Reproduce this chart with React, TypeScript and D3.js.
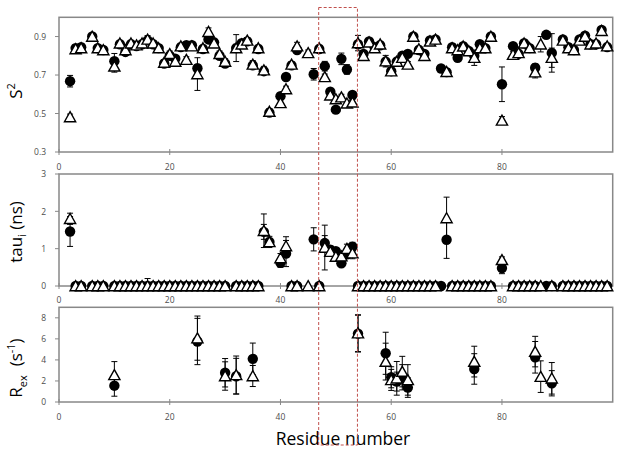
import React from "react";
import * as d3 from "d3";

// ---------- DATA ----------
const residues = [2,3,4,6,7,8,10,11,12,13,14,15,16,17,18,19,20,21,22,23,24,25,26,27,28,29,30,32,33,34,35,36,37,38,40,41,42,43,45,46,47,48,49,50,51,52,53,54,55,56,57,58,59,60,61,62,63,64,65,66,67,68,69,70,71,72,73,74,75,76,77,78,80,82,83,84,85,86,87,88,89,91,92,93,94,95,96,97,98,99];

// S2 – filled circles (series A) and open triangles (series B)
const s2A = [0.668,0.84,0.845,0.90,0.84,0.83,0.772,0.86,0.82,0.86,0.85,0.86,0.88,0.86,0.84,0.76,0.80,0.785,0.845,0.855,0.855,0.735,0.835,0.885,0.87,0.80,0.76,0.84,0.865,0.875,0.75,0.835,0.72,0.505,0.59,0.69,0.75,0.83,null,0.704,0.835,0.746,0.613,0.52,0.784,0.729,0.596,0.86,0.81,0.874,0.845,0.855,0.77,0.72,0.77,0.80,0.81,0.90,0.83,0.81,0.88,0.885,0.734,0.715,0.845,0.79,0.85,0.825,0.80,0.86,0.84,0.90,0.652,0.85,0.81,0.865,0.84,0.738,null,0.909,0.815,0.885,0.845,0.83,0.885,0.905,0.86,0.86,0.934,0.845];
const s2B = [0.482,0.835,0.84,0.90,0.84,0.83,0.745,0.865,0.83,0.865,0.855,0.865,0.885,0.865,0.84,0.765,0.81,0.77,0.85,0.78,0.85,0.705,0.84,0.925,0.865,0.81,0.77,0.84,0.86,0.88,0.755,0.84,0.725,0.51,0.555,0.627,0.755,0.85,0.815,null,0.84,0.69,0.595,0.575,0.585,0.553,0.558,0.866,0.80,0.87,0.84,0.86,0.772,0.72,0.77,0.79,0.755,0.90,0.835,0.80,0.875,0.885,null,0.717,0.84,0.83,0.849,0.825,0.79,0.84,0.84,0.90,0.464,0.806,0.815,0.865,0.84,0.715,0.86,null,0.79,0.88,0.84,0.83,0.88,0.90,0.86,0.865,0.93,0.85];
const s2AErr = [0.03,0.015,0.015,0.015,0.015,0.015,0.04,0.015,0.015,0.015,0.015,0.015,0.015,0.015,0.015,0.015,0.015,0.015,0.015,0.015,0.015,0.02,0.015,0.015,0.015,0.015,0.015,0.02,0.015,0.015,0.015,0.015,0.015,0.015,0.015,0.015,0.015,0.015,0,0.03,0.015,0.025,0.015,0.015,0.03,0.025,0.015,0.015,0.015,0.015,0.015,0.015,0.015,0.02,0.015,0.015,0.015,0.015,0.015,0.015,0.015,0.015,0.015,0.015,0.015,0.015,0.015,0.015,0.015,0.015,0.015,0.015,0.09,0.015,0.015,0.015,0.015,0.02,0,0.015,0.1,0.015,0.015,0.015,0.015,0.015,0.015,0.015,0.015,0.015];
const s2BErr = [0.015,0.02,0.015,0.015,0.015,0.015,0.03,0.015,0.015,0.015,0.015,0.015,0.02,0.015,0.015,0.015,0.015,0.015,0.015,0.015,0.015,0.085,0.015,0.02,0.015,0.015,0.015,0.07,0.015,0.015,0.02,0.015,0.02,0.015,0.015,0.015,0.015,0.02,0.015,0,0.015,0.015,0.015,0.015,0.015,0.015,0.015,0.04,0.015,0.015,0.015,0.015,0.03,0.015,0.015,0.015,0.015,0.015,0.015,0.015,0.015,0.015,0,0.015,0.015,0.015,0.015,0.015,0.04,0.015,0.015,0.015,0.02,0.015,0.015,0.015,0.015,0.03,0.04,0,0.05,0.015,0.015,0.015,0.015,0.015,0.015,0.015,0.015,0.015];

// tau_i (ns)
const tauA = [1.46,0,0,0,0,0,0,0,0,0,0,0,0,0,0,0,0,0,0,0,0,0,0,0,0,0,0,0,0,0,0,0,1.45,1.18,0.62,0.87,0,0,null,1.25,0,1.15,0.97,0.93,0.61,0.85,1.05,0,0,0,0,0,0,0,0,0,0,0,0,0,0,0,0,1.24,0,0,0,0,0,0,0,0,0.48,0,0,0,0,0,null,0,0,0,0,0,0,0,0,0,0,0];
const tauB = [1.8,0,0,0,0,0,0,0,0,0,0,0,0,0,0,0,0,0,0,0,0,0,0,0,0,0,0,0,0,0,0,0,1.48,1.18,0.75,1.07,0,0,0,null,0,1.03,0.92,0.79,0.80,1.0,0.88,0,0,0,0,0,0,0,0,0,0,0,0,0,0,0,null,1.82,0,0,0,0,0,0,0,0,0.70,0,0,0,0,0,0,null,0,0,0,0,0,0,0,0,0,0];
const tauAErr = [0.4,0,0,0,0,0,0,0,0,0,0,0,0,0,0,0,0,0,0,0,0,0,0,0,0,0,0,0,0,0,0,0,0.2,0.1,0.12,0.35,0,0,0,0.31,0,0.2,0.1,0.1,0.08,0.1,0.12,0,0,0,0,0,0,0,0,0,0,0,0,0,0,0,0,0.5,0,0,0,0,0,0,0,0,0.15,0,0,0,0,0,0,0,0,0,0,0,0,0,0,0,0,0];
const tauBErr = [0.15,0,0,0,0,0,0,0,0,0,0,0,0.2,0,0,0,0,0,0,0,0,0,0,0.1,0,0,0,0,0,0,0,0,0.45,0.15,0.12,0.25,0,0,0,0,0,0.6,0.1,0.1,0.1,0.12,0.15,0,0,0,0,0,0,0,0,0,0,0.1,0,0,0,0,0,0.56,0,0,0,0,0,0,0,0,0.08,0,0,0,0,0,0,0,0,0,0,0,0,0,0,0,0,0];

// Rex (s^-1)
const rexRes = [10,25,30,32,35,54,59,60,61,62,63,75,86,87,89];
const rexA = [1.55,5.75,2.78,2.45,4.1,6.5,4.63,2.35,1.94,2.35,1.37,3.14,4.25,null,1.78];
const rexB = [2.57,6.07,2.47,2.57,2.47,6.54,3.84,2.1,2.25,2.89,2.1,3.84,4.79,2.41,2.25];
const rexAErr = [1.0,2.2,1.35,1.7,1.5,1.75,2.0,1.0,0.9,1.2,0.93,1.45,1.5,0,1.2];
const rexBErr = [1.27,2.1,1.35,1.8,1.0,1.75,1.75,1.0,1.6,1.45,1.45,1.46,1.45,1.5,1.5];

const xTicks = [0, 20, 40, 60, 80];
const s2Ticks = [0.3, 0.5, 0.7, 0.9];
const tauTicks = [0, 1, 2, 3];
const rexTicks = [0, 2, 4, 6, 8];
const highlight = [46.9, 53.9];

// ---------- LAYOUT ----------
const W = 624, H = 453;
const X0 = 59, X1 = 612.7;
const AXIS = "#888888";
const TXT = "#4d4d4d";
const FONT = "'Open Sans', 'Noto Sans', sans-serif";

const x = d3.scaleLinear().domain([0, 100]).range([X0, X1]);

type Pt = { r: number; v: number | null; e: number };

function Panel(props: {
  top: number; bottom: number; domain: [number, number]; ticks: number[];
  fmt: (d: number) => string; labelY: number; a: Pt[]; b: Pt[];
}) {
  const { top, bottom, domain, ticks, fmt, labelY, a, b } = props;
  const y = d3.scaleLinear().domain(domain).range([bottom, top]);
  const errBars = (pts: Pt[], key: string) =>
    pts.filter(p => p.v !== null && p.e > 0).map((p, i) => {
      const cx = x(p.r);
      const y1 = y(Math.min(domain[1], (p.v as number) + p.e));
      const y2 = y(Math.max(domain[0], (p.v as number) - p.e));
      return (
        <g key={key + i} stroke="#000" strokeWidth={1}>
          <line x1={cx} x2={cx} y1={y1} y2={y2} />
          <line x1={cx - 3} x2={cx + 3} y1={y1} y2={y1} />
          <line x1={cx - 3} x2={cx + 3} y1={y2} y2={y2} />
        </g>
      );
    });
  const tri = (cx: number, cy: number) =>
    `M${cx},${cy - 5.3}L${cx + 5.6},${cy + 4.7}L${cx - 5.6},${cy + 4.7}Z`;
  return (
    <g>
      <rect x={X0} y={top} width={X1 - X0} height={bottom - top} fill="none" stroke={AXIS} strokeWidth={1.5} />
      {ticks.map(t => (
        <g key={"yt" + t}>
          <line x1={X0 - 4} x2={X0} y1={y(t)} y2={y(t)} stroke={AXIS} strokeWidth={1} />
          <text x={46} y={y(t) + 3.2} textAnchor="end" fontSize={8.5} fill={TXT} fontFamily={FONT}>{fmt(t)}</text>
        </g>
      ))}
      {xTicks.map(t => (
        <g key={"xt" + t}>
          <line x1={x(t)} x2={x(t)} y1={bottom - 3} y2={bottom + 3} stroke={AXIS} strokeWidth={1} />
          <text x={x(t)} y={labelY} textAnchor="middle" fontSize={8.5} fill={TXT} fontFamily={FONT}>{t}</text>
        </g>
      ))}
      {errBars(a, "ea")}
      {a.filter(p => p.v !== null).map((p, i) => (
        <circle key={"c" + i} cx={x(p.r)} cy={y(p.v as number)} r={5.2} fill="#000" />
      ))}
      {errBars(b, "eb")}
      {b.filter(p => p.v !== null).map((p, i) => (
        <path key={"t" + i} d={tri(x(p.r), y(p.v as number))} fill="#fff" stroke="#000" strokeWidth={1.4} />
      ))}
    </g>
  );
}

const zip = (rs: number[], vs: (number | null)[], es: number[]): Pt[] =>
  rs.map((r, i) => ({ r, v: vs[i], e: es[i] }));

export default function App() {
  return (
    <svg width={W} height={H} style={{ position: "absolute", left: 0, top: 0, background: "#fff" }}>
      <rect width={W} height={H} fill="#fff" />
      <Panel top={17.3} bottom={152} domain={[0.3, 1.0]} ticks={s2Ticks} fmt={d => d.toFixed(1)} labelY={170}
        a={zip(residues, s2A, s2AErr)} b={zip(residues, s2B, s2BErr)} />
      <Panel top={174} bottom={286} domain={[0, 3]} ticks={tauTicks} fmt={d => String(d)} labelY={303}
        a={zip(residues, tauA, tauAErr)} b={zip(residues, tauB, tauBErr)} />
      <Panel top={307.3} bottom={402} domain={[0, 9]} ticks={rexTicks} fmt={d => String(d)} labelY={420}
        a={zip(rexRes, rexA, rexAErr)} b={zip(rexRes, rexB, rexBErr)} />

      <text transform="translate(22,91) rotate(-90)" textAnchor="middle" fontSize={17} fill="#000" fontFamily={FONT}>
        S<tspan dy={-7} fontSize={11}>2</tspan>
      </text>
      <text transform="translate(22,232) rotate(-90)" textAnchor="middle" fontSize={17} fill="#000" fontFamily={FONT}>
        tau<tspan dy={4} fontSize={11}>i</tspan><tspan dy={-4}> (ns)</tspan>
      </text>
      <text transform="translate(22,368) rotate(-90)" textAnchor="middle" fontSize={17} fill="#000" fontFamily={FONT}>
        R<tspan dy={5} fontSize={11}>ex</tspan><tspan dy={-5} xmlSpace="preserve">  (s</tspan><tspan dy={-7} fontSize={11}>-1</tspan><tspan dy={7}>)</tspan>
      </text>
      <text x={343} y={445} textAnchor="middle" fontSize={17.5} fill="#000" fontFamily={FONT}>Residue number</text>

      <rect x={x(highlight[0])} y={7.5} width={x(highlight[1]) - x(highlight[0])} height={437.5}
        fill="none" stroke="#c0504d" strokeWidth={1} strokeDasharray="3,2" />
    </svg>
  );
}
